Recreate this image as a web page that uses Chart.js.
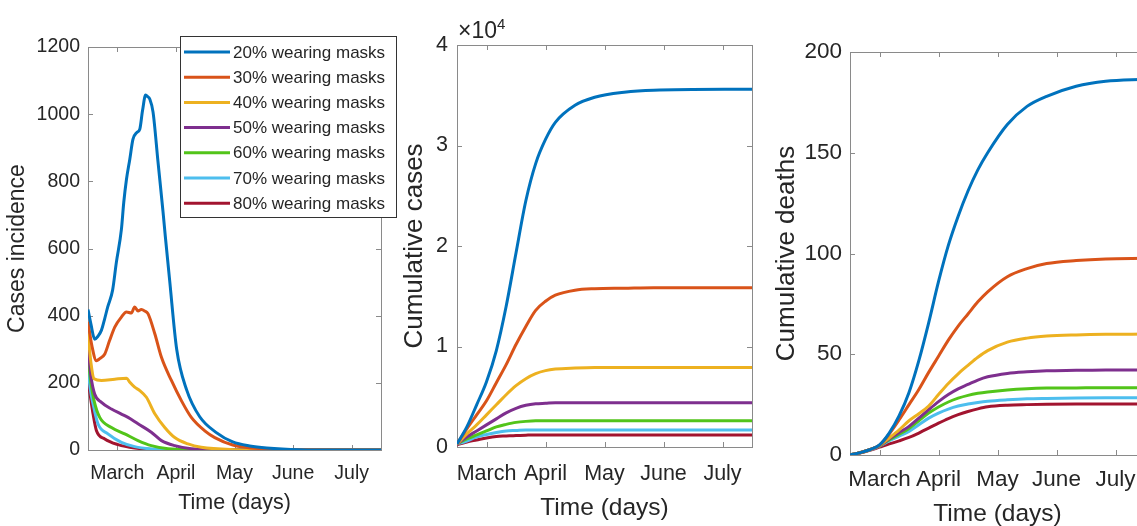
<!DOCTYPE html>
<html><head><meta charset="utf-8">
<script src="https://cdn.jsdelivr.net/npm/chart.js@4.4.1/dist/chart.umd.min.js"></script>
<style>
html,body{margin:0;padding:0;width:1137px;height:526px;overflow:hidden;background:#fff;}
canvas{position:absolute;top:0;}
#c1{left:0;} #c2{left:395px;} #c3{left:765px;}
</style></head><body>
<canvas id="c1" width="400" height="526"></canvas>
<canvas id="c2" width="370" height="526"></canvas>
<canvas id="c3" width="390" height="540"></canvas>
<script>
// ---------- shared ----------
const months = ['March', 'April', 'May', 'June', 'July'];
const monthTickDays = [15, 45, 75, 105, 135];
const seriesLabels = ['20% wearing masks', '30% wearing masks', '40% wearing masks', '50% wearing masks',
  '60% wearing masks', '70% wearing masks', '80% wearing masks'];
const seriesColors = ['#0072BD', '#D95319', '#EDB120', '#7E2F8E', '#52C41A', '#4DBEEE', '#A2142F'];
const incidenceTicks = [0, 200, 400, 600, 800, 1000, 1200];
const casesTicks = [0, 10000, 20000, 30000, 40000];
const deathsTicks = [0, 50, 100, 150, 200];

// ---------- panel 1: cases incidence ----------
const incDays20 = [0, 1.5, 3.4, 5, 6.9, 8.5, 10.1, 12.6, 14.5, 17.1, 18.3, 19.7, 21.4, 23, 24.9, 26.5, 27.9, 29.5, 30.6, 31.6, 33.3, 35.8, 38.4, 39.6, 41.8, 45.4, 50.5, 57.2, 65.9, 74.1, 82.8, 91.5, 108.4, 129, 150];
const inc20 = [418, 375, 330, 338, 357, 390, 426, 476, 558, 657, 737, 806, 866, 925, 945, 955, 1010, 1057, 1052, 1045, 1006, 860, 710, 635, 505, 300, 179, 99, 51, 24, 12, 6, 1, 0, 0];
const incDays30 = [0, 2, 4.3, 6, 8.6, 11, 13.7, 17, 19.7, 22.2, 23.9, 25.6, 27.3, 29, 30.7, 34.2, 37.6, 42.7, 47.8, 52.9, 59.8, 64.9, 74.1, 91.5, 108.4, 150];
const inc30 = [382, 310, 266, 272, 286, 325, 366, 395, 411, 408, 426, 414, 418, 414, 406, 346, 276, 207, 147, 97, 57, 37, 15, 3, 1, 0];
const incDays40 = [0, 1.5, 3.1, 6.9, 13.7, 19.7, 21.4, 23.9, 26.5, 29.9, 34.2, 39.3, 44.4, 51.2, 58, 75, 90, 150];
const inc40 = [347, 260, 212, 207, 211, 214, 202, 187, 177, 157, 108, 67, 37, 18, 8, 1, 0, 0];
const incDays50 = [0, 1.5, 3.4, 6.9, 12, 17.1, 20.5, 25.6, 32.4, 37.6, 44.4, 52.9, 65, 80, 150];
const inc50 = [306, 220, 167, 142, 122, 107, 97, 78, 53, 28, 13, 4, 1, 0, 0];
const incDays60 = [0, 1.5, 3.1, 6, 12, 18.8, 25.6, 32.4, 41, 55, 70, 150];
const inc60 = [276, 200, 147, 97, 67, 48, 28, 13, 4, 1, 0, 0];
const incDays70 = [0, 1.2, 2.6, 5.1, 10.2, 17.1, 23.9, 32.4, 45, 150];
const inc70 = [241, 180, 137, 78, 48, 23, 10, 3, 0, 0];
const incDays80 = [0, 1.2, 2.6, 4.3, 8.6, 15.4, 23.9, 35, 45, 150];
const inc80 = [208, 160, 107, 58, 33, 16, 6, 1, 0, 0];

// ---------- panel 2: cumulative cases ----------
const cumDays = [0, 5, 10, 15, 20, 25, 30, 35, 40, 45, 50, 60, 70, 85, 100, 150];
const cumCases20 = [300, 2000, 4200, 6500, 9600, 14000, 19300, 24500, 28200, 30600, 32300, 34000, 34800, 35300, 35500, 35600];
const cumCases30 = [300, 1800, 3200, 4600, 6400, 8200, 10200, 12000, 13600, 14500, 15100, 15600, 15750, 15800, 15850, 15850];
const cumCases40 = [300, 1300, 2200, 3200, 4200, 5200, 6100, 6800, 7300, 7600, 7750, 7850, 7900, 7900, 7900, 7900];
const cumCases50 = [300, 1000, 1600, 2200, 2800, 3400, 3850, 4150, 4300, 4350, 4400, 4400, 4400, 4400, 4400, 4400];
const cumCases60 = [300, 800, 1200, 1600, 2000, 2250, 2450, 2550, 2600, 2600, 2600, 2600, 2600, 2600, 2600, 2600];
const cumCases70 = [300, 600, 1000, 1250, 1450, 1600, 1650, 1700, 1700, 1700, 1700, 1700, 1700, 1700, 1700, 1700];
const cumCases80 = [200, 500, 700, 900, 1050, 1100, 1150, 1180, 1200, 1200, 1200, 1200, 1200, 1200, 1200, 1200];

// ---------- panel 3: cumulative deaths ----------
const deathDays = [0, 5, 10, 15, 20, 25, 30, 35, 40, 45, 50, 55, 60, 65, 70, 80, 90, 100, 115, 130, 150];
const deaths20 = [0, 1.1, 2.6, 5.0, 11.0, 19.5, 31, 46.8, 65.6, 86, 104, 118.5, 131, 141.5, 150, 164, 173, 178, 183, 185.5, 186.5];
const deaths30 = [0, 1.1, 2.6, 4.9, 10.5, 17.5, 25, 32.5, 41, 49, 57, 64, 70, 76, 81, 88.5, 92.5, 95, 96.5, 97.3, 97.6];
const deaths40 = [0, 1.1, 2.6, 4.7, 8.5, 12.5, 17, 20.5, 24.3, 30, 35.5, 40.3, 44.5, 48.5, 51.8, 56, 58, 59, 59.6, 59.9, 60];
const deaths50 = [0, 1.1, 2.6, 4.6, 8.0, 11.2, 14.2, 18.3, 22.5, 26.5, 30, 32.8, 35, 37.2, 38.8, 40.5, 41.3, 41.8, 42, 42.2, 42.2];
const deaths60 = [0, 1.1, 2.6, 4.5, 7.6, 10.3, 13.2, 17, 20.8, 23.8, 26.3, 28.2, 29.6, 30.6, 31.3, 32.3, 32.9, 33.2, 33.3, 33.4, 33.4];
const deaths70 = [0, 1.1, 2.5, 4.4, 7.1, 9.4, 11.7, 15, 18.3, 20.8, 22.8, 24.3, 25.3, 26.1, 26.7, 27.4, 27.9, 28.1, 28.3, 28.4, 28.4];
const deaths80 = [0, 1.0, 2.3, 3.9, 5.5, 7, 8.7, 10.9, 13.3, 15.8, 18.1, 20, 21.6, 22.9, 23.9, 24.7, 25, 25.2, 25.3, 25.3, 25.3];

// ---------- build ----------
Chart.defaults.font.family = '"Liberation Sans", Arial, Helvetica, sans-serif';
Chart.defaults.color = '#262626';
const pts = (days, vals) => days.map((d, i) => ({x: d, y: vals[i]}));
const mkSets = (pairs) => pairs.map((p, i) => ({
  label: seriesLabels[i], data: pts(p[0], p[1]), borderColor: seriesColors[i],
  backgroundColor: seriesColors[i], borderWidth: 3, pointRadius: 0, fill: false,
  cubicInterpolationMode: 'monotone'
}));

const boxPlugin = {
  id: 'matlabBox',
  beforeDatasetsDraw(chart) {
    const {ctx, chartArea: a, scales: {x, y}} = chart;
    ctx.save();
    ctx.strokeStyle = '#8a8a8a'; ctx.lineWidth = 1;
    ctx.strokeRect(Math.round(a.left) + 0.5, Math.round(a.top) + 0.5,
      Math.round(a.right - a.left), Math.round(a.bottom - a.top));
    const L = 5;
    ctx.beginPath();
    x.ticks.forEach(t => {
      const px = Math.round(x.getPixelForValue(t.value)) + 0.5;
      ctx.moveTo(px, a.bottom); ctx.lineTo(px, a.bottom - L);
      ctx.moveTo(px, a.top); ctx.lineTo(px, a.top + L);
    });
    y.ticks.forEach(t => {
      const py = Math.round(y.getPixelForValue(t.value)) + 0.5;
      ctx.moveTo(a.left, py); ctx.lineTo(a.left + L, py);
      ctx.moveTo(a.right, py); ctx.lineTo(a.right - L, py);
    });
    ctx.stroke();
    ctx.restore();
  }
};

const legendPlugin = {
  id: 'maskLegend',
  afterDraw(chart) {
    const ctx = chart.ctx;
    ctx.save();
    const bx = 180.5, by = 36.5, bw = 216, bh = 181;
    ctx.fillStyle = '#fff'; ctx.fillRect(bx, by, bw, bh);
    ctx.strokeStyle = '#333'; ctx.lineWidth = 1; ctx.strokeRect(bx, by, bw, bh);
    ctx.font = '17px "Liberation Sans", Arial, sans-serif';
    ctx.textBaseline = 'middle'; ctx.textAlign = 'left';
    chart.data.datasets.forEach((ds, i) => {
      const yy = 52 + i * 25.2;
      ctx.strokeStyle = ds.borderColor; ctx.lineWidth = 3;
      ctx.beginPath(); ctx.moveTo(184, yy); ctx.lineTo(230, yy); ctx.stroke();
      ctx.fillStyle = '#262626'; ctx.fillText(ds.label, 233, yy + 1);
    });
    ctx.restore();
  }
};

const expPlugin = {
  id: 'expLabel',
  afterDraw(chart) {
    const {ctx, chartArea: a} = chart;
    ctx.save();
    ctx.fillStyle = '#262626'; ctx.textBaseline = 'alphabetic'; ctx.textAlign = 'left';
    ctx.font = '23px "Liberation Sans", Arial, sans-serif';
    const s = '\u00d710';
    ctx.fillText(s, a.left + 1, 38);
    const w = ctx.measureText(s).width;
    ctx.font = '15px "Liberation Sans", Arial, sans-serif';
    ctx.fillText('4', a.left + 1 + w, 29);
    ctx.restore();
  }
};

function makeChart(id, datasets, c, extraPlugins) {
  return new Chart(document.getElementById(id), {
    type: 'line',
    data: {datasets},
    plugins: [boxPlugin].concat(extraPlugins || []),
    options: {
      responsive: false, animation: false, devicePixelRatio: 1,
      layout: {padding: {top: c.padTop, right: c.padRight, left: 0, bottom: 0}},
      plugins: {legend: {display: false}, tooltip: {enabled: false}},
      scales: {
        x: {
          type: 'linear', min: 0, max: 150,
          afterFit: s => { s.height = c.xH; },
          afterBuildTicks: s => { s.ticks = monthTickDays.map(v => ({value: v})); },
          grid: {display: false, drawTicks: false, tickLength: 0},
          border: {display: false},
          ticks: {autoSkip: false, maxRotation: 0, padding: c.xPad, font: {size: c.tickSize},
            color: '#262626', callback: (v, i) => months[i]},
          title: {display: true, text: 'Time (days)', font: {size: c.xTitleSize},
            color: '#262626', padding: {top: 0, bottom: c.xTitlePad}}
        },
        y: {
          type: 'linear', min: c.yTicks[0], max: c.yTicks[c.yTicks.length - 1],
          afterFit: s => { s.width = c.yW; },
          afterBuildTicks: s => { s.ticks = c.yTicks.map(v => ({value: v})); },
          grid: {display: false, drawTicks: false, tickLength: 0},
          border: {display: false},
          ticks: {padding: c.yPad, font: {size: c.tickSize}, color: '#262626',
            callback: c.yFmt || (v => String(v))},
          title: {display: true, text: c.yTitle, font: {size: c.yTitleSize},
            color: '#262626', padding: {top: c.yTitlePad, bottom: 0}}
        }
      }
    }
  });
}

makeChart('c1', mkSets([[incDays20, inc20], [incDays30, inc30], [incDays40, inc40], [incDays50, inc50],
  [incDays60, inc60], [incDays70, inc70], [incDays80, inc80]]),
  {padTop: 47, padRight: 19, xH: 76, yW: 88, yTicks: incidenceTicks, tickSize: 19.5, xPad: 12,
   yPad: 8, xTitleSize: 21.5, xTitlePad: 10, yTitle: 'Cases incidence', yTitleSize: 23, yTitlePad: 4},
  [legendPlugin]);

makeChart('c2', mkSets([[cumDays, cumCases20], [cumDays, cumCases30], [cumDays, cumCases40], [cumDays, cumCases50],
  [cumDays, cumCases60], [cumDays, cumCases70], [cumDays, cumCases80]]),
  {padTop: 45, padRight: 13, xH: 79, yW: 62, yTicks: casesTicks, tickSize: 21.5, xPad: 14,
   yPad: 9, xTitleSize: 24.5, xTitlePad: 3, yTitle: 'Cumulative cases', yTitleSize: 26, yTitlePad: 4,
   yFmt: v => String(v / 10000)},
  [expPlugin]);

makeChart('c3', mkSets([[deathDays, deaths20], [deathDays, deaths30], [deathDays, deaths40], [deathDays, deaths50],
  [deathDays, deaths60], [deathDays, deaths70], [deathDays, deaths80]]),
  {padTop: 52, padRight: 10, xH: 85, yW: 85, yTicks: deathsTicks, tickSize: 22.5, xPad: 11,
   yPad: 8, xTitleSize: 24.5, xTitlePad: 11, yTitle: 'Cumulative deaths', yTitleSize: 26, yTitlePad: 6});
</script></body></html>
